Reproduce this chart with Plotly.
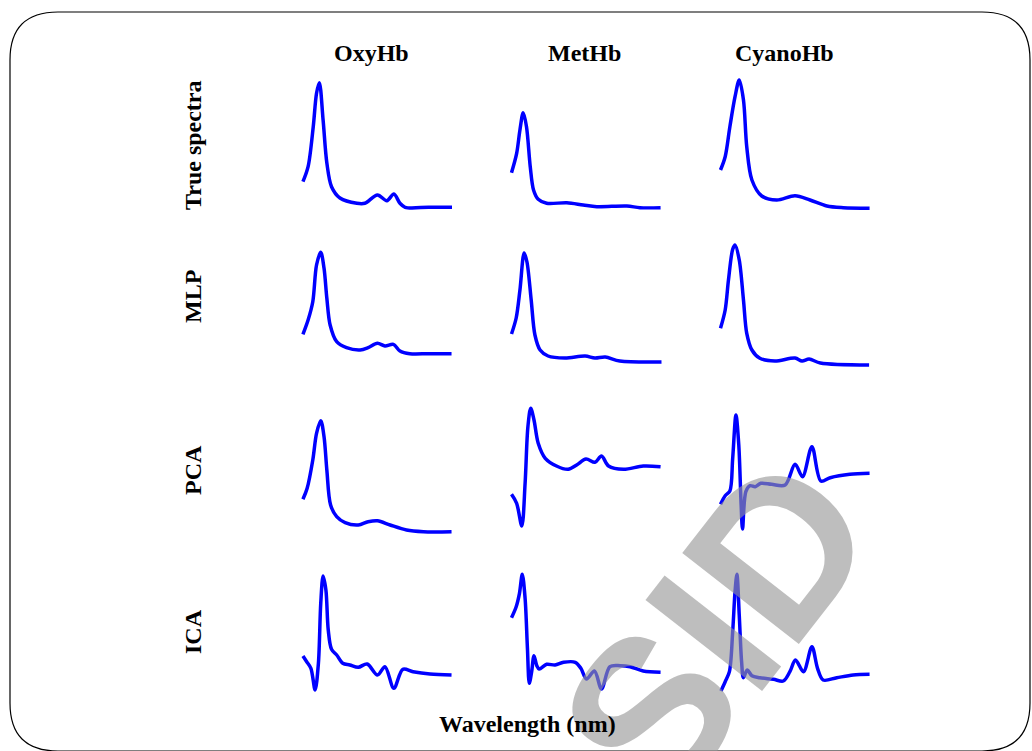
import plotly.graph_objects as go

# Wavelength (nm) sample points and absorbance-like values (arbitrary units)
columns = ["OxyHb", "MetHb", "CyanoHb"]
rows = ["True spectra", "MLP", "PCA", "ICA"]

true_oxy_wl = [382, 393, 404, 411, 417, 425, 433, 443, 461, 497, 514, 541, 561, 576, 589, 600, 650, 700]
true_oxy_a = [0.333, 0.483, 0.883, 1.217, 1.323, 0.95, 0.52, 0.283, 0.17, 0.117, 0.117, 0.20, 0.143, 0.21, 0.117, 0.077, 0.077, 0.077]

true_met_wl = [380, 391, 398, 405, 412, 420, 427, 437, 455, 498, 533, 562, 626, 654, 698]
true_met_a = [0.423, 0.617, 0.85, 1.023, 0.883, 0.483, 0.25, 0.157, 0.117, 0.123, 0.10, 0.083, 0.09, 0.073, 0.073]

true_cyan_wl = [380, 390, 400, 411, 420, 429, 436, 447, 468, 500, 539, 571, 607, 642, 698]
true_cyan_a = [0.45, 0.583, 0.883, 1.183, 1.35, 1.15, 0.683, 0.35, 0.19, 0.15, 0.193, 0.15, 0.09, 0.073, 0.067]

mlp_oxy_wl = [382, 393, 403, 411, 420, 427, 433, 440, 454, 475, 504, 521, 541, 557, 575, 589, 610, 650, 699]
mlp_oxy_a = [0.357, 0.50, 0.683, 1.05, 1.177, 1.017, 0.717, 0.45, 0.283, 0.223, 0.20, 0.223, 0.267, 0.24, 0.257, 0.19, 0.163, 0.163, 0.163]

mlp_met_wl = [380, 390, 398, 407, 413, 422, 430, 441, 458, 494, 537, 558, 580, 611, 700]
mlp_met_a = [0.36, 0.52, 0.80, 1.17, 1.08, 0.70, 0.35, 0.20, 0.14, 0.12, 0.14, 0.12, 0.13, 0.09, 0.08]

mlp_cyan_wl = [380, 390, 397, 406, 411, 420, 429, 436, 447, 464, 496, 539, 554, 569, 593, 697]
mlp_cyan_a = [0.417, 0.60, 0.90, 1.207, 1.25, 1.10, 0.70, 0.367, 0.20, 0.117, 0.09, 0.12, 0.09, 0.11, 0.07, 0.05]

pca_oxy_wl = [382, 391, 403, 411, 420, 427, 433, 441, 454, 472, 500, 521, 541, 568, 603, 639, 699]
pca_oxy_a = [0.357, 0.467, 0.75, 1.017, 1.143, 0.983, 0.65, 0.30, 0.183, 0.123, 0.10, 0.133, 0.143, 0.10, 0.05, 0.033, 0.033]

pca_met_wl = [380, 391, 402, 409, 415, 421, 428, 437, 452, 476, 501, 519, 539, 558, 572, 587, 619, 661, 698]
pca_met_a = [0.407, 0.317, 0.09, 0.517, 1.083, 1.267, 1.15, 0.917, 0.767, 0.69, 0.657, 0.70, 0.76, 0.727, 0.79, 0.69, 0.657, 0.69, 0.683]

pca_cyan_wl = [380, 390, 400, 406, 413, 419, 424, 427, 434, 443, 454, 466, 489, 518, 539, 555, 575, 594, 614, 656, 698]
pca_cyan_a = [0.307, 0.393, 0.44, 0.767, 1.20, 0.90, 0.30, 0.06, 0.433, 0.493, 0.483, 0.517, 0.507, 0.50, 0.707, 0.583, 0.883, 0.54, 0.573, 0.607, 0.617]

ica_oxy_wl = [382, 390, 399, 408, 415, 420, 425, 431, 436, 443, 454, 467, 482, 500, 519, 541, 557, 576, 595, 617, 653, 699]
ica_oxy_a = [0.44, 0.383, 0.317, 0.10, 0.367, 0.967, 1.24, 1.10, 0.70, 0.507, 0.45, 0.367, 0.35, 0.327, 0.36, 0.25, 0.333, 0.117, 0.307, 0.283, 0.26, 0.25]

ica_met_wl = [380, 390, 397, 403, 409, 414, 418, 423, 428, 434, 439, 455, 473, 491, 516, 528, 540, 557, 572, 590, 612, 633, 661, 698]
ica_met_a = [0.823, 0.933, 1.067, 1.257, 1.017, 0.517, 0.167, 0.283, 0.443, 0.343, 0.31, 0.357, 0.35, 0.377, 0.377, 0.317, 0.21, 0.29, 0.11, 0.333, 0.343, 0.333, 0.29, 0.277]

ica_cyan_wl = [381, 390, 399, 406, 411, 415, 420, 425, 429, 437, 447, 464, 493, 514, 528, 540, 557, 575, 587, 599, 628, 663, 698]
ica_cyan_a = [0.09, 0.183, 0.283, 0.683, 1.083, 1.257, 0.85, 0.383, 0.223, 0.30, 0.243, 0.223, 0.207, 0.19, 0.283, 0.40, 0.283, 0.533, 0.317, 0.20, 0.223, 0.25, 0.257]

series = [
    [(true_oxy_wl, true_oxy_a), (true_met_wl, true_met_a), (true_cyan_wl, true_cyan_a)],
    [(mlp_oxy_wl, mlp_oxy_a), (mlp_met_wl, mlp_met_a), (mlp_cyan_wl, mlp_cyan_a)],
    [(pca_oxy_wl, pca_oxy_a), (pca_met_wl, pca_met_a), (pca_cyan_wl, pca_cyan_a)],
    [(ica_oxy_wl, ica_oxy_a), (ica_met_wl, ica_met_a), (ica_cyan_wl, ica_cyan_a)],
]

W, H = 1032, 751
XR = [375, 705]
col_px = [302, 511.5, 720.5]          # pixel where 380 nm lands
px_per_nm = 150 / 320.0
row_px = [(75, 215), (240, 370), (400, 535), (565, 700)]  # top, bottom (bottom = value 0)

fig = go.Figure()
layout = {}
k = 0
for r in range(4):
    top, bot = row_px[r]
    for c in range(3):
        k += 1
        sx = "" if k == 1 else str(k)
        wl, a = series[r][c]
        fig.add_trace(go.Scatter(x=wl, y=a, mode="lines", xaxis="x" + sx, yaxis="y" + sx,
                                 line=dict(color="#0000FF", width=3.5, shape="spline", smoothing=0.9),
                                 showlegend=False, hoverinfo="skip"))
        x0 = col_px[c] + (XR[0] - 380) * px_per_nm
        x1 = col_px[c] + (XR[1] - 380) * px_per_nm
        layout["xaxis" + sx] = dict(domain=[x0 / W, x1 / W], range=XR, visible=False,
                                    anchor="y" + sx, fixedrange=True)
        layout["yaxis" + sx] = dict(domain=[1 - bot / H, 1 - top / H], range=[0, (bot - top) / 100.0],
                                    visible=False, anchor="x" + sx, fixedrange=True)

font_serif = "Liberation Serif, Times New Roman, serif"
FS = 24
ann = []
# watermark (first, so the labels sit on top of it)
ann.append(dict(text="<b>SID</b>", x=716 / W, y=1 - 628 / H, xref="paper", yref="paper", showarrow=False,
                xanchor="center", yanchor="middle",
                textangle=-52, font=dict(family="Liberation Sans, Arial, sans-serif", size=215,
                                         color="rgba(150,150,150,0.62)")))
col_title_x = [371, 584, 784]
for c, name in enumerate(columns):
    ann.append(dict(text="<b>%s</b>" % name, x=col_title_x[c] / W, y=1 - 53 / H, xref="paper", yref="paper",
                    xanchor="center", yanchor="middle",
                    showarrow=False, font=dict(family=font_serif, size=FS, color="black")))
row_label_y = [145, 297, 470, 632]
for r, name in enumerate(rows):
    ann.append(dict(text="<b>%s</b>" % name, x=193 / W, y=1 - row_label_y[r] / H, xref="paper", yref="paper",
                    xanchor="center", yanchor="middle",
                    showarrow=False, textangle=-90, font=dict(family=font_serif, size=FS, color="black")))
ann.append(dict(text="<b>Wavelength (nm)</b>", x=527 / W, y=1 - 724 / H, xref="paper", yref="paper",
                xanchor="center", yanchor="middle",
                showarrow=False, font=dict(family=font_serif, size=FS, color="black")))


def P(px, py):
    return "%.5f,%.5f" % (px / W, 1 - py / H)


L, T, R, B, rad = 10, 12, 1030, 751, 48
path = ("M " + P(L, T + rad) + " Q " + P(L, T) + " " + P(L + rad, T) +
        " L " + P(R - rad, T) + " Q " + P(R, T) + " " + P(R, T + rad) +
        " L " + P(R, B - rad) + " Q " + P(R, B) + " " + P(R - rad, B) +
        " L " + P(L + rad, B) + " Q " + P(L, B) + " " + P(L, B - rad) + " Z")

fig.update_layout(**layout)
fig.update_layout(width=W, height=H, margin=dict(l=0, r=0, t=0, b=0),
                  paper_bgcolor="white", plot_bgcolor="rgba(0,0,0,0)",
                  annotations=ann,
                  shapes=[dict(type="path", path=path, xref="paper", yref="paper",
                               line=dict(color="black", width=1.2), layer="below")])
fig.write_html("out.html", config={"displayModeBar": False},
               post_script="document.body.style.margin='0px';document.body.style.overflow='hidden';")
